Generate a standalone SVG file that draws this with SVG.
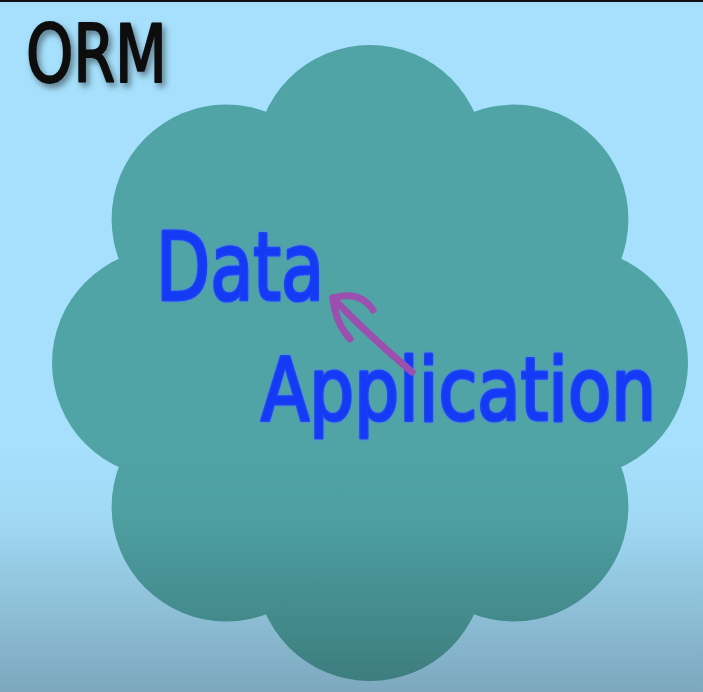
<svg xmlns="http://www.w3.org/2000/svg" width="703" height="692" viewBox="0 0 703 692">
  <style>
    .bump { fill: #50a4a6; }
    .blue { fill: #143af5; stroke: #1d44f2; stroke-width: 3.2; stroke-linejoin: round; paint-order: stroke; font-family: "DejaVu Sans Condensed", "DejaVu Sans", sans-serif; }
    .halo { fill: none; stroke: #4f86f0; stroke-opacity: 0.4; stroke-width: 6; stroke-linejoin: round; font-family: "DejaVu Sans Condensed", "DejaVu Sans", sans-serif; }
    .title { fill: #0a0a0a; stroke: #0a0a0a; stroke-width: 2; stroke-linejoin: round; font-family: "DejaVu Sans Condensed", "DejaVu Sans", sans-serif; }
    .arrow { fill: none; stroke: #9b4fae; stroke-width: 7; stroke-linecap: round; stroke-linejoin: round; }
  </style>
  <defs>
    <linearGradient id="shade" gradientUnits="userSpaceOnUse" x1="0" y1="440" x2="0" y2="692">
      <stop offset="0" stop-color="#000" stop-opacity="0"/>
      <stop offset="0.3" stop-color="#000" stop-opacity="0.03"/>
      <stop offset="1" stop-color="#000" stop-opacity="0.25"/>
    </linearGradient>
    <filter id="shadow" x="-20%" y="-20%" width="150%" height="160%">
      <feDropShadow dx="3" dy="4" stdDeviation="3" flood-color="#000" flood-opacity="0.45"/>
    </filter>
  </defs>

  <g id="background">
    <rect x="0" y="0" width="703" height="692" fill="#a6e0fc"/>
  </g>

  <g id="cloud">
    <circle class="bump" cx="370" cy="363" r="240"/>
    <circle class="bump" cx="370" cy="159.6" r="114.6"/>
    <circle class="bump" cx="513.8" cy="219.2" r="114.6"/>
    <circle class="bump" cx="573.4" cy="363" r="114.6"/>
    <circle class="bump" cx="513.8" cy="506.8" r="114.6"/>
    <circle class="bump" cx="370" cy="566.4" r="114.6"/>
    <circle class="bump" cx="226.2" cy="506.8" r="114.6"/>
    <circle class="bump" cx="166.6" cy="363" r="114.6"/>
    <circle class="bump" cx="226.2" cy="219.2" r="114.6"/>
  </g>

  <rect id="bottom-shade" x="0" y="440" width="703" height="252" fill="url(#shade)"/>
  <rect id="top-edge" x="0" y="0" width="703" height="2" fill="#111"/>

  <g id="node-orm">
    <text class="title" x="26" y="82" font-size="80" textLength="141" lengthAdjust="spacingAndGlyphs" filter="url(#shadow)">ORM</text>
  </g>

  <g id="node-data">
    <text class="halo" x="156" y="300" font-size="95" textLength="168" lengthAdjust="spacingAndGlyphs">Data</text>
    <text class="blue" x="156" y="300" font-size="95" textLength="168" lengthAdjust="spacingAndGlyphs">Data</text>
  </g>

  <g id="node-application">
    <text class="halo" x="261" y="420" font-size="88" textLength="395" lengthAdjust="spacingAndGlyphs">Application</text>
    <text class="blue" x="261" y="420" font-size="88" textLength="395" lengthAdjust="spacingAndGlyphs">Application</text>
  </g>

  <g id="connectors">
    <path class="arrow" d="M412,372 Q365,332 333,298"/>
    <path class="arrow" d="M333,298 Q360,290 373,310"/>
    <path class="arrow" d="M333,298 Q335,322 350,339"/>
  </g>
</svg>
